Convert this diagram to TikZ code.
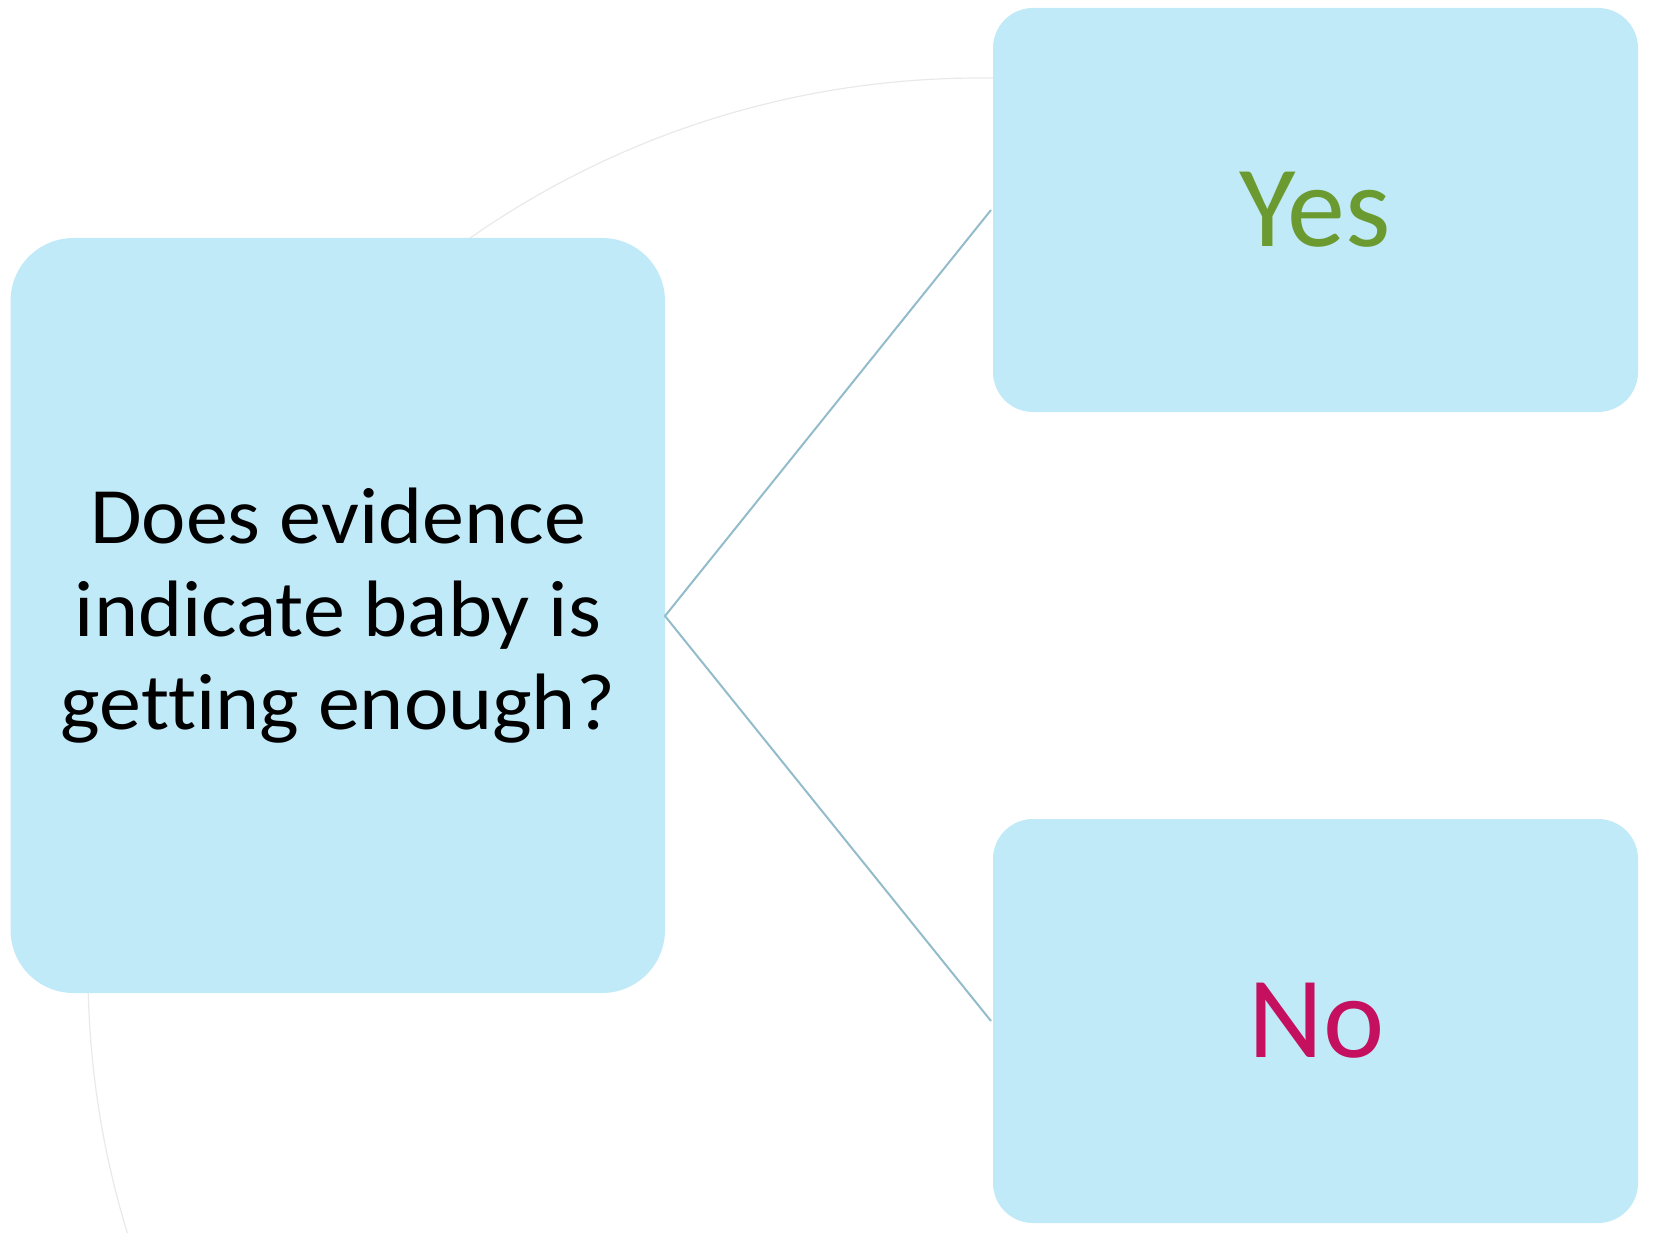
\documentclass[tikz,border=0pt]{standalone}
\usepackage{fontspec}
\setmainfont{Carlito}[Ligatures=CommonOff]
\newfontfamily\questionfont{Carlito}[FakeStretch=1.05, Ligatures=CommonOff]
\definecolor{boxfill}{HTML}{C1EAF9}
\definecolor{linkline}{HTML}{93BCCB}
\definecolor{ringline}{HTML}{E9E9E9}
\definecolor{yesgreen}{HTML}{6B9B30}
\definecolor{nored}{HTML}{C4105E}
\begin{document}
\begin{tikzpicture}[x=1pt,y=-1pt,
  decision/.style={fill=boxfill, draw=none, rounded corners=63pt},
  answer/.style={fill=boxfill, draw=none, rounded corners=40pt},
  link/.style={draw=linkline, line width=2pt}]
  \useasboundingbox (0,0) rectangle (1653,1233);
  % faint background ring, kept to the left of the answer boxes' right edge
  \begin{scope}
    \clip (0,0) rectangle (1636,1233);
    \draw[ringline, line width=1.2pt] (980,970) circle (892);
  \end{scope}
  % boxes
  \path[decision] (10.5,238) rectangle (665,993);
  \path[answer] (993,8) rectangle (1638,412);
  \path[answer] (993,819) rectangle (1638,1223);
  \coordinate (q) at (665,616);
  \coordinate (ya) at (991,210);
  \coordinate (na) at (991,1021);
  \node (question) at (338,616) [align=center, font=\questionfont\fontsize{80}{93}\selectfont] {Does evidence\\indicate baby is\\getting enough?};
  \node (yes) at (1315,210) [text=yesgreen, font=\fontsize{116}{130}\selectfont] {Yes};
  \node (no) at (1317,1021) [text=nored, font=\fontsize{116}{130}\selectfont] {No};
  \draw[link] (ya) -- (q) -- (na);
\end{tikzpicture}
\end{document}
